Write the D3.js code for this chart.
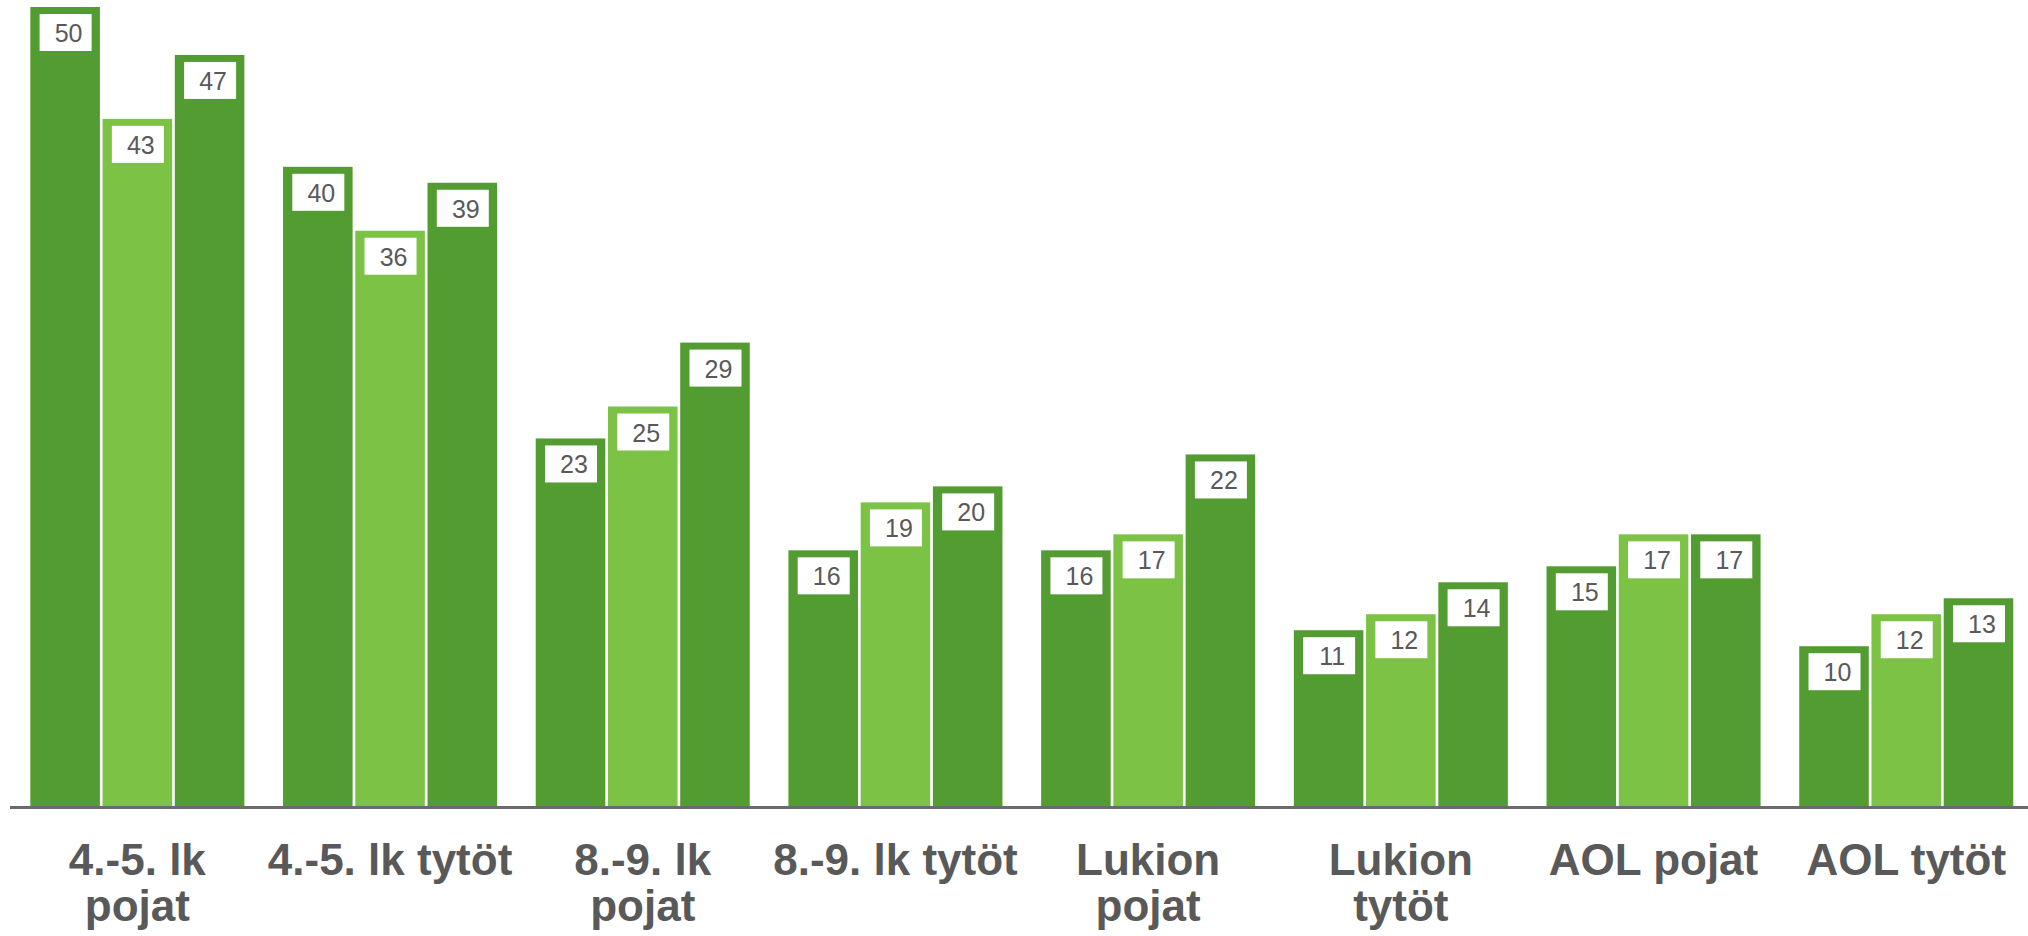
<!DOCTYPE html>
<html>
<head>
<meta charset="utf-8">
<script src="https://cdn.jsdelivr.net/npm/d3@7"></script>
<style>
  html, body { margin: 0; padding: 0; background: #fff; }
  svg { display: block; }
</style>
</head>
<body>
<svg id="chart" width="2028" height="936"></svg>
<script>
// ---- data ----
const categories = [
  "4.-5. lk\npojat", "4.-5. lk tytöt", "8.-9. lk\npojat", "8.-9. lk tytöt",
  "Lukion\npojat", "Lukion\ntytöt", "AOL pojat", "AOL tytöt"
];
const seriesNames = ["s1", "s2", "s3"];
const series1 = [50, 40, 23, 16, 16, 11, 15, 10];
const series2 = [43, 36, 25, 19, 17, 12, 17, 12];
const series3 = [47, 39, 29, 20, 22, 14, 17, 13];
const seriesColors = ["#539C31", "#7CC244", "#539C31"];

const allSeries = [series1, series2, series3];

// ---- layout ----
const W = 2028, H = 936;
const baseY = 806;
const svg = d3.select("#chart");

const x0 = d3.scaleBand()
  .domain(categories)
  .range([11, 11 + 8 * 252.7])
  .paddingInner(0.153)
  .paddingOuter(0.0765);

const x1 = d3.scaleBand()
  .domain(seriesNames)
  .range([0, x0.bandwidth()])
  .paddingInner(0.037)
  .paddingOuter(0);

const y = d3.scaleLinear().domain([0, 50]).range([baseY, 7]);

const rows = [];
categories.forEach((c, i) => {
  seriesNames.forEach((s, j) => {
    rows.push({ cat: c, ser: s, v: allSeries[j][i], color: seriesColors[j] });
  });
});

// bars
svg.append("g").selectAll("rect")
  .data(rows)
  .join("rect")
  .attr("x", d => x0(d.cat) + x1(d.ser))
  .attr("y", d => y(d.v))
  .attr("width", x1.bandwidth())
  .attr("height", d => baseY - y(d.v))
  .attr("fill", d => d.color);

// axis line
svg.append("line")
  .attr("x1", 10).attr("x2", W)
  .attr("y1", baseY + 1.5).attr("y2", baseY + 1.5)
  .attr("stroke", "#6A6A6A").attr("stroke-width", 3);

// value labels
const boxW = 52, boxH = 37;
const lab = svg.append("g").selectAll("g")
  .data(rows)
  .join("g")
  .attr("transform", d => `translate(${x0(d.cat) + x1(d.ser) + x1.bandwidth() / 2},${y(d.v) + 7})`);
lab.append("rect")
  .attr("x", -boxW / 2 + 0.5).attr("y", 0)
  .attr("width", boxW).attr("height", boxH)
  .attr("fill", "#fff");
lab.append("text")
  .attr("x", 3.5).attr("y", 28)
  .attr("text-anchor", "middle")
  .attr("font-family", "Liberation Sans, Arial, sans-serif")
  .attr("font-size", 25)
  .attr("fill", "#595959")
  .text(d => d.v);

// category labels
const catG = svg.append("g").selectAll("text")
  .data(categories)
  .join("text")
  .attr("x", d => x0(d) + x0.bandwidth() / 2)
  .attr("y", 875)
  .attr("text-anchor", "middle")
  .attr("font-family", "Liberation Sans, Arial, sans-serif")
  .attr("font-weight", "bold")
  .attr("font-size", 44)
  .attr("fill", "#595959");
catG.each(function (d) {
  const t = d3.select(this);
  const cx = x0(d) + x0.bandwidth() / 2;
  d.split("\n").forEach((line, i) => {
    t.append("tspan").attr("x", cx).attr("dy", i === 0 ? 0 : 46).text(line);
  });
});
</script>
</body>
</html>
